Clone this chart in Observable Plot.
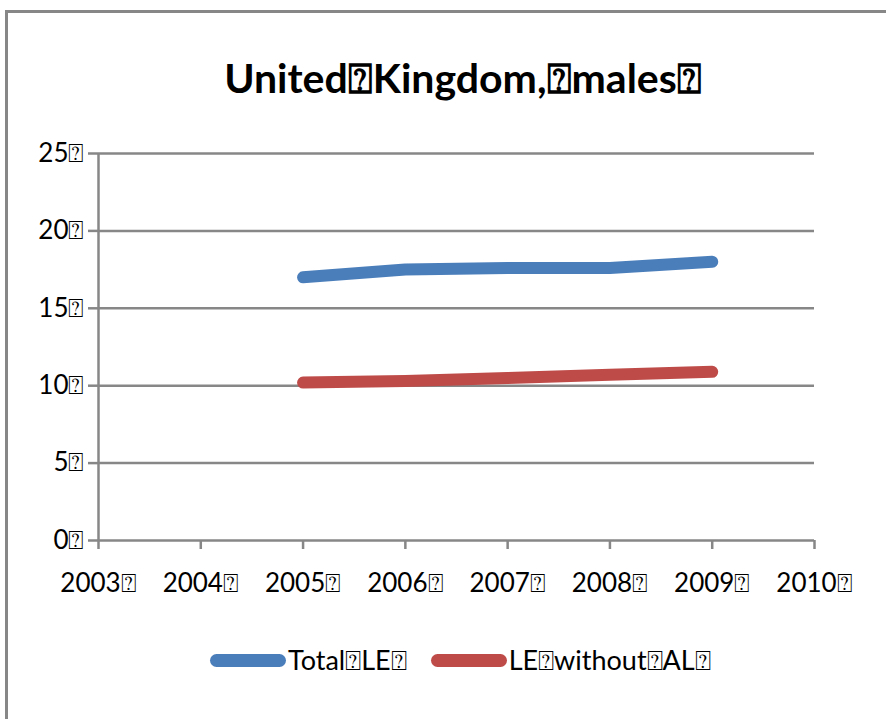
<!DOCTYPE html>
<html>
<head>
<meta charset="utf-8">
<script src="https://cdn.jsdelivr.net/npm/d3@7"></script>
<script src="https://cdn.jsdelivr.net/npm/@observablehq/plot@0.6"></script>
<style>
  html, body { margin: 0; padding: 0; background: #fff; }
  #wrap { position: relative; width: 886px; height: 719px; overflow: hidden; font-family: Lato, "Open Sans", sans-serif; }
  #frame { position: absolute; left: 5px; top: 10px; width: 900px; height: 800px; border-left: 3px solid #878787; border-top: 3px solid #878787; box-sizing: border-box; }
  #title { position: absolute; left: 0; width: 926px; top: 53px; text-align: center; font-size: 41px; font-weight: bold; color: #000; }
  #chart { position: absolute; left: 0; top: 0; }
  #legend { position: absolute; top: 643px; left: 210px; display: flex; align-items: center; font-size: 27px; color: #000; }
  .sw { width: 76px; height: 13px; border-radius: 7px; display: inline-block; margin-right: 2px; }
  .item { display: flex; align-items: center; margin-right: 24px; }
</style>
</head>
<body>
<div id="wrap">
  <div id="frame"></div>
  <div id="title"></div>
  <div id="chart"></div>
  <div id="legend"></div>
</div>
<script>
const BOX = "\u2370";
const titleText = "United" + BOX + "Kingdom," + BOX + "males" + BOX;
const years = [2005, 2006, 2007, 2008, 2009];
const totalLE = [17.0, 17.5, 17.6, 17.6, 18.0];
const leWithoutAL = [10.2, 10.3, 10.5, 10.7, 10.9];
const seriesNames = ["Total" + BOX + "LE" + BOX, "LE" + BOX + "without" + BOX + "AL" + BOX];
const seriesColors = ["#4A7EBB", "#BE4B48"];
const xTicks = [2003, 2004, 2005, 2006, 2007, 2008, 2009, 2010];
const yTicks = [0, 5, 10, 15, 20, 25];

document.getElementById("title").textContent = titleText;

const rows = [];
years.forEach((yr, i) => {
  rows.push({year: yr, value: totalLE[i], series: seriesNames[0]});
  rows.push({year: yr, value: leWithoutAL[i], series: seriesNames[1]});
});

const gridColor = "#878787";

const chart = Plot.plot({
  width: 886,
  height: 719,
  marginTop: 153,
  marginBottom: 179,
  marginLeft: 98,
  marginRight: 72,
  style: { fontFamily: "Lato, 'Open Sans', sans-serif", fontSize: "26px", color: "#000", background: "transparent" },
  x: { domain: [2003, 2010], ticks: xTicks, tickFormat: d => d + BOX, label: null },
  y: { domain: [0, 25], ticks: yTicks, tickFormat: d => d + BOX, label: null },
  color: { domain: seriesNames, range: seriesColors },
  marks: [
    Plot.ruleY(yTicks, { stroke: gridColor, strokeWidth: 2.5 }),
    Plot.ruleX([2003], { y1: 0, y2: 25, stroke: gridColor, strokeWidth: 2.5 }),
    Plot.axisX({ ticks: xTicks, tickFormat: d => d + BOX, label: null, tickSize: 9, tickPadding: 24, stroke: gridColor, strokeWidth: 2.5, strokeOpacity: 1, fill: "#000", fontSize: 26 }),
    Plot.axisY({ ticks: yTicks, tickFormat: d => d + BOX, label: null, tickSize: 10, tickPadding: 4, stroke: gridColor, strokeWidth: 2.5, strokeOpacity: 1, fill: "#000", fontSize: 26 }),
    Plot.line(rows, { x: "year", y: "value", z: "series", stroke: "series", strokeWidth: 12, strokeLinecap: "round", strokeLinejoin: "round" })
  ]
});
document.getElementById("chart").appendChild(chart);

const legend = document.getElementById("legend");
seriesNames.forEach((name, i) => {
  const item = document.createElement("div");
  item.className = "item";
  const sw = document.createElement("span");
  sw.className = "sw";
  sw.style.background = seriesColors[i];
  const t = document.createElement("span");
  t.textContent = name;
  item.appendChild(sw);
  item.appendChild(t);
  legend.appendChild(item);
});
</script>
</body>
</html>
